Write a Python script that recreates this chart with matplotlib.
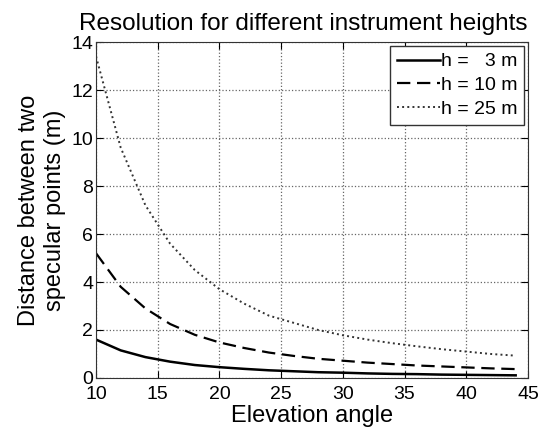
import matplotlib
matplotlib.use("Agg")
import matplotlib.pyplot as plt

plt.rcParams["font.family"] = ["Liberation Sans", "DejaVu Sans"]

# elevation angle (deg) and distance between specular points (m)
elev = [10, 12, 14, 16, 18, 20, 22, 24, 26, 28, 30, 32, 34, 36, 38, 40, 42, 44]
d_h3 = [1.6, 1.15, 0.87, 0.68, 0.54, 0.45, 0.38, 0.32, 0.28, 0.24,
        0.22, 0.19, 0.17, 0.16, 0.14, 0.13, 0.12, 0.11]
d_h10 = [5.2, 3.8, 2.9, 2.25, 1.8, 1.48, 1.25, 1.06, 0.92, 0.8,
         0.72, 0.64, 0.58, 0.52, 0.48, 0.44, 0.4, 0.37]
d_h25 = [13.4, 9.6, 7.2, 5.6, 4.5, 3.7, 3.1, 2.6, 2.3, 2.0,
         1.78, 1.6, 1.45, 1.32, 1.2, 1.1, 1.0, 0.93]
labels = ["h =   3 m", "h = 10 m", "h = 25 m"]

fig = plt.figure(figsize=(5.41, 4.30), dpi=100)
ax = fig.add_axes([0.1775, 0.121, 0.7985, 0.781])

ax.plot(elev, d_h3, "k-", lw=1.8, label=labels[0])
ax.plot(elev, d_h10, "k--", lw=1.6, dashes=(6, 3), label=labels[1])
ax.plot(elev, d_h25, ":", lw=1.4, label=labels[2], color="#333333")

ax.set_xlim(10, 45)
ax.set_ylim(0, 14)
ax.set_xticks(range(10, 46, 5))
ax.set_yticks(range(0, 15, 2))
ax.grid(True, linestyle=":", color="#666666", lw=0.9)
ax.tick_params(direction="in", top=True, right=True, labelsize=14, length=5)
ax.tick_params(axis="x", pad=6)
ax.tick_params(axis="y", pad=2)
for s in ax.spines.values():
    s.set_color("#333333")

ax.set_title("Resolution for different instrument heights", fontsize=17.5,
             pad=9, x=0.48)
ax.set_xlabel("Elevation angle", fontsize=17, labelpad=1)
ax.set_ylabel("Distance between two\nspecular points (m)", fontsize=17, labelpad=4)

leg = ax.legend(loc="upper right", fontsize=14, fancybox=False, framealpha=1,
                edgecolor="#333333", handlelength=2.2, handletextpad=0.05,
                borderaxespad=0.2, labelspacing=0.32, borderpad=0.35)
leg.get_frame().set_linewidth(1.0)

fig.savefig("out.png", dpi=100)
